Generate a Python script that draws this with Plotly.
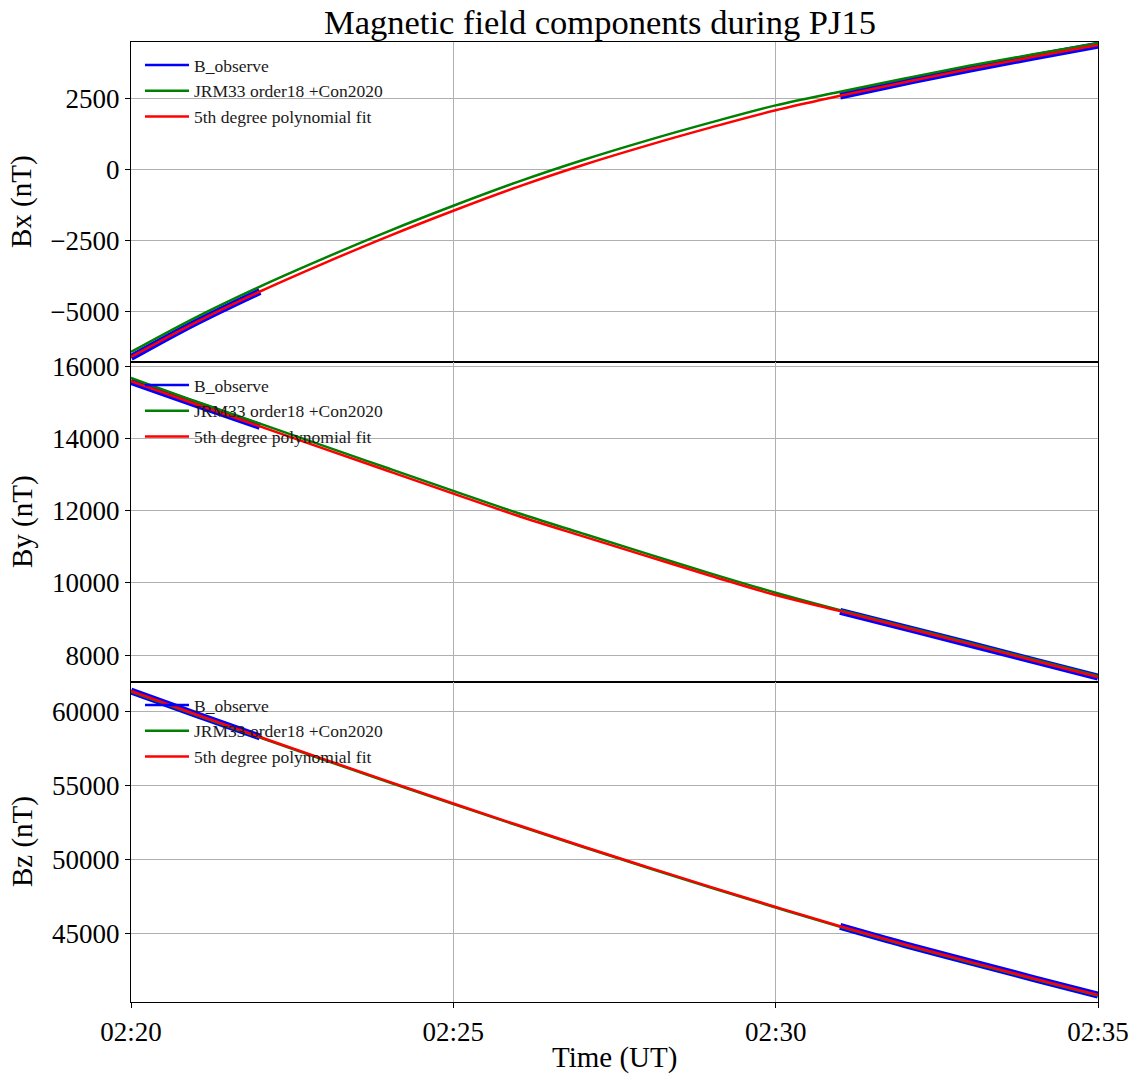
import datetime as dt
import plotly.graph_objects as go
from plotly.subplots import make_subplots

# ---------------- data ----------------
base_time = "2018-09-07 02:20:00"
minutes = list(range(16))                     # model / fit sampled each minute
obs_minutes_1 = [0, 1, 2]                      # observed segment 1
obs_minutes_2 = [11, 12, 13, 14, 15]           # observed segment 2

bx_fit = [-6600, -5390, -4300, -3300, -2350, -1460, -620, 140, 830, 1470, 2070, 2580, 3060, 3520, 3950, 4370]
bx_model = [-6425, -5215, -4125, -3125, -2175, -1285, -445, 315, 1005, 1645, 2245, 2725, 3190, 3635, 4040, 4430]
bx_obs_1 = [-6620, -5395, -4300]
bx_obs_2 = [2575, 3055, 3515, 3945, 4360]

by_fit = [15600, 14965, 14345, 13720, 13100, 12480, 11865, 11300, 10745, 10195, 9665, 9220, 8765, 8310, 7850, 7390]
by_model = [15690, 15040, 14420, 13795, 13175, 12555, 11940, 11375, 10815, 10260, 9730, 9245, 8790, 8335, 7875, 7415]
by_obs_1 = [15590, 14962, 14345]
by_obs_2 = [9215, 8762, 8307, 7847, 7387]

bz_fit = [61400, 59830, 58290, 56770, 55270, 53790, 52330, 50900, 49500, 48130, 46790, 45480, 44250, 43090, 41950, 40830]
bz_model = [61360, 59790, 58250, 56730, 55230, 53750, 52290, 50860, 49460, 48090, 46750, 45440, 44210, 43050, 41910, 40790]
bz_obs_1 = [61400, 59830, 58290]
bz_obs_2 = [45475, 44245, 43085, 41945, 40820]

bx_ticks = [-5000, -2500, 0, 2500]
by_ticks = [8000, 10000, 12000, 14000, 16000]
bz_ticks = [45000, 50000, 55000, 60000]
x_ticks_min = [0, 5, 10, 15]

series_names = ["B_observe", "JRM33 order18 +Con2020", "5th degree polynomial fit"]
series_colors = ["#0000ff", "#008000", "#ff0000"]
y_titles = ["Bx (nT)", "By (nT)", "Bz (nT)"]
title_text = "Magnetic field components during PJ15"
x_title = "Time (UT)"

# ---------------- build ----------------
t0 = dt.datetime.fromisoformat(base_time)
to_t = lambda ms: [t0 + dt.timedelta(minutes=m) for m in ms]
t_all = to_t(minutes)
t_obs = to_t(obs_minutes_1) + [None] + to_t(obs_minutes_2)

FONT = "Liberation Serif"
W, H = 1138, 1076
L, R, T, B = 131, 40, 42, 74
fig = make_subplots(rows=3, cols=1, shared_xaxes=True, vertical_spacing=0)

panels = [
    (bx_obs_1, bx_obs_2, bx_model, bx_fit, bx_ticks, [-6778, 4472]),
    (by_obs_1, by_obs_2, by_model, by_fit, by_ticks, [7253, 16130]),
    (bz_obs_1, bz_obs_2, bz_model, bz_fit, bz_ticks, [40358, 62010]),
]

legend_ids = ["legend", "legend2", "legend3"]
legend_layout = {}
plot_h = H - T - B
panel_h = plot_h / 3
annotations = []
for i, (o1, o2, mod, fit, ticks, rng) in enumerate(panels):
    row = i + 1
    lg = legend_ids[i]
    fig.add_trace(go.Scatter(x=t_obs, y=o1 + [None] + o2, mode="lines", showlegend=False, line_shape="spline",
                             line=dict(color=series_colors[0], width=7), hoverinfo="skip"), row=row, col=1)
    fig.add_trace(go.Scatter(x=t_all, y=mod, mode="lines", showlegend=False, line_shape="spline",
                             line=dict(color=series_colors[1], width=2.5)), row=row, col=1)
    fig.add_trace(go.Scatter(x=t_all, y=fit, mode="lines", showlegend=False, line_shape="spline",
                             line=dict(color=series_colors[2], width=2.5)), row=row, col=1)
    # legend entries (thin lines as in the reference legend)
    for name, col in zip(series_names, series_colors):
        fig.add_trace(go.Scatter(x=[None], y=[None], mode="lines", name=name,
                                 line=dict(color=col, width=2.5), legend=lg), row=row, col=1)
    fig.update_yaxes(row=row, col=1, range=rng, tickvals=ticks, automargin=False,
                     ticktext=[str(v).replace("-", "\u2212") for v in ticks],
                     showgrid=True, gridcolor="#b0b0b0", gridwidth=1,
                     ticks="outside", ticklen=5, tickcolor="black", tickwidth=1,
                     tickfont=dict(family=FONT, size=27, color="black"),
                     showline=True, linecolor="black", linewidth=1.3, mirror=True, zeroline=False)
    panel_top_px = T + i * panel_h
    legend_layout[lg] = dict(
        x=(140 - L) / (W - L - R), xref="paper", y=1 - (panel_top_px + 5 - T) / plot_h, yref="paper",
        xanchor="left", yanchor="top", bgcolor="rgba(0,0,0,0)", borderwidth=0,
        font=dict(family=FONT, size=17.5, color="#1a1a1a"), tracegroupgap=0, itemwidth=44,
    )
    annotations.append(dict(text=y_titles[i], xref="paper", yref="paper", textangle=-90,
                            x=-(L - 22) / (W - L - R), y=1 - (i + 0.5) / 3,
                            xanchor="center", yanchor="middle", showarrow=False,
                            font=dict(family=FONT, size=29, color="black")))

annotations.append(dict(text=x_title, xref="paper", yref="paper", x=0.5, y=-(1057 - (H - B)) / plot_h,
                        xanchor="center", yanchor="middle", showarrow=False,
                        font=dict(family=FONT, size=29, color="black")))

x_ticks = to_t(x_ticks_min)
for row in (1, 2, 3):
    fig.update_xaxes(row=row, col=1, range=[t_all[0], t_all[-1]], type="date", automargin=False,
                     tickvals=x_ticks, tickformat="%H:%M",
                     showgrid=True, gridcolor="#b0b0b0", gridwidth=1,
                     showline=True, linecolor="black", linewidth=1.3, mirror=True, zeroline=False,
                     ticks="outside" if row == 3 else "", ticklen=5, tickcolor="black",
                     tickfont=dict(family=FONT, size=27, color="black"))

fig.update_layout(
    width=W, height=H,
    margin=dict(l=L, r=R, t=T, b=B),
    paper_bgcolor="white", plot_bgcolor="white",
    title=dict(text=title_text, x=600 / W, xref="container", xanchor="center", y=1 - 22 / H, yanchor="middle",
               font=dict(family=FONT, size=34.5, color="black")),
    showlegend=True,
    annotations=annotations,
    **legend_layout,
)

fig.write_html("out.html")
